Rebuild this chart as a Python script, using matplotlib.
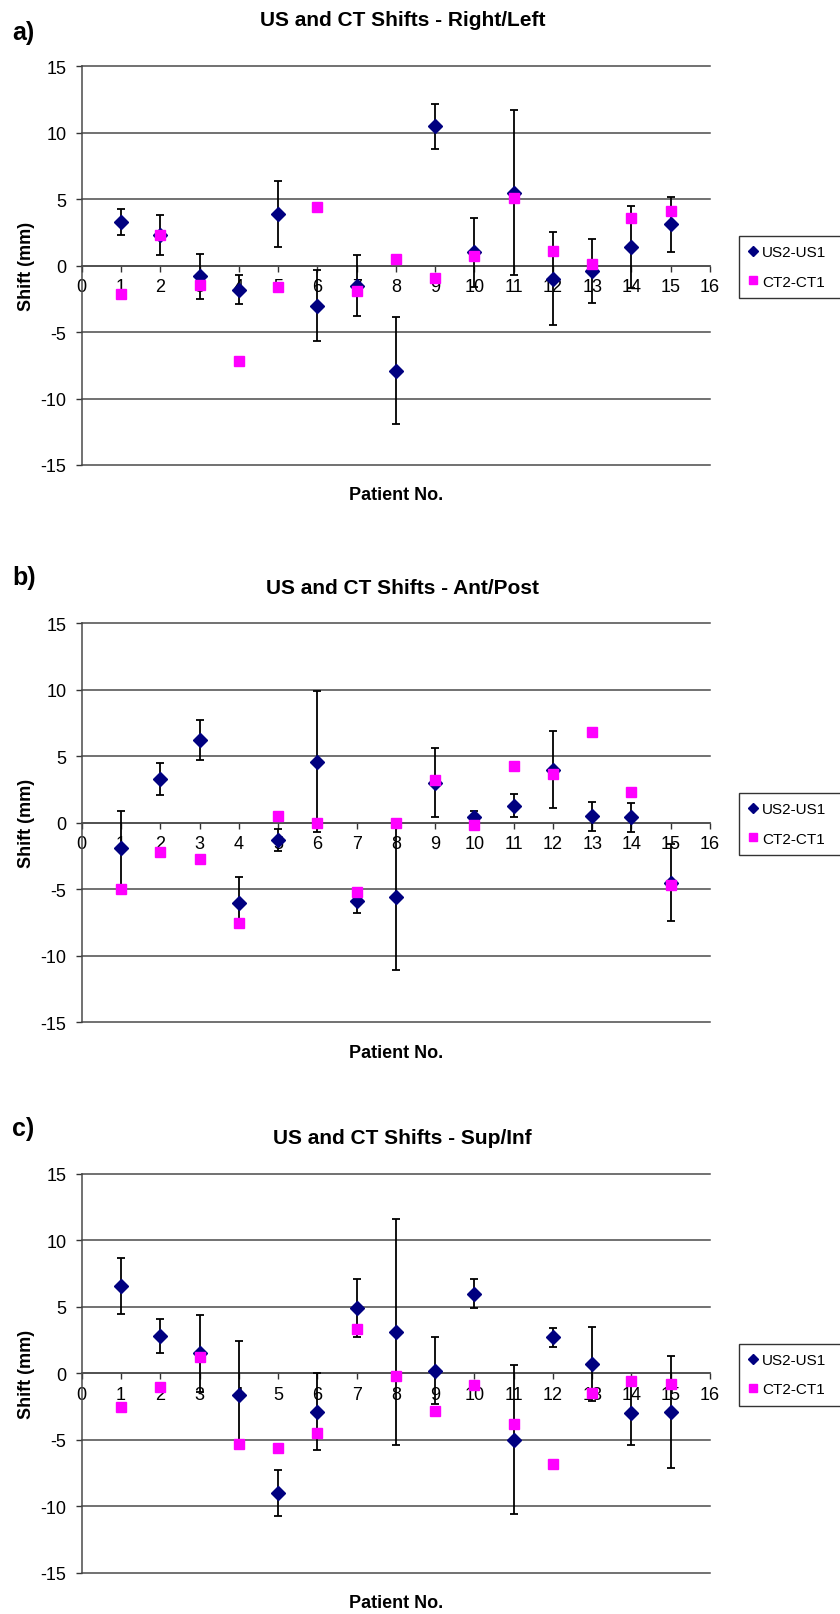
import matplotlib
matplotlib.use("Agg")
import matplotlib.pyplot as plt
import numpy as np

plt.rcParams["font.family"] = ["Liberation Sans", "DejaVu Sans"]
plt.rcParams["axes.unicode_minus"] = False

patients = list(range(1, 16))

# a) Right/Left
us_rl = [3.3, 2.3, -0.8, -1.8, 3.9, -3.0, -1.5, -7.9, 10.5, 1.0, 5.5, -1.0, -0.4, 1.4, 3.1]
us_rl_err = [1.0, 1.5, 1.7, 1.1, 2.5, 2.7, 2.3, 4.0, 1.7, 2.6, 6.2, 3.5, 2.4, 3.1, 2.1]
ct_rl = [-2.1, 2.3, -1.45, -7.2, -1.6, 4.4, -1.9, 0.5, -0.9, 0.7, 5.1, 1.1, 0.1, 3.6, 4.1]

# b) Ant/Post
us_ap = [-1.9, 3.3, 6.2, -6.0, -1.3, 4.6, -5.9, -5.6, 3.0, 0.4, 1.3, 4.0, 0.5, 0.4, -4.5]
us_ap_err = [2.8, 1.2, 1.5, 1.9, 0.8, 5.3, 0.9, 5.5, 2.6, 0.5, 0.9, 2.9, 1.1, 1.1, 2.9]
ct_ap = [-5.0, -2.2, -2.7, -7.5, 0.5, 0.0, -5.2, 0.0, 3.2, -0.15, 4.3, 3.7, 6.8, 2.3, -4.7]

# c) Sup/Inf
us_si = [6.6, 2.8, 1.5, -1.6, -9.0, -2.9, 4.9, 3.1, 0.2, 6.0, -5.0, 2.7, 0.7, -3.0, -2.9]
us_si_err = [2.1, 1.3, 2.9, 4.0, 1.7, 2.9, 2.2, 8.5, 2.5, 1.1, 5.6, 0.7, 2.8, 2.4, 4.2]
ct_si = [-2.5, -1.0, 1.2, -5.3, -5.6, -4.5, 3.3, -0.2, -2.8, -0.9, -3.8, -6.8, -1.5, -0.6, -0.8]

panels = [
    ("a)", "US and CT Shifts - Right/Left", us_rl, us_rl_err, ct_rl),
    ("b)", "US and CT Shifts - Ant/Post", us_ap, us_ap_err, ct_ap),
    ("c)", "US and CT Shifts - Sup/Inf", us_si, us_si_err, ct_si),
]

W, H = 840, 1615
# axes boxes in pixels: (top, bottom); label/title offsets above top
tops = [67.3, 624.3, 1175.0]
bottoms = [466.0, 1023.3, 1573.7]
left_px, right_px = 81.7, 710.0
label_off = [34, 46, 46]
title_off = [47, 36, 36]

GRID = "#4a4a4a"

fig = plt.figure(figsize=(W / 100, H / 100), dpi=100)

for i, (tag, title, us, us_err, ct) in enumerate(panels):
    top, bot = tops[i], bottoms[i]
    ax = fig.add_axes([left_px / W, 1 - bot / H, (right_px - left_px) / W, (bot - top) / H])
    ax.set_xlim(0, 16)
    ax.set_ylim(-15, 15)
    ax.set_xticks(range(0, 17))
    ax.set_yticks(range(-15, 16, 5))
    ax.yaxis.grid(True, color=GRID, lw=1.1)
    for gl in ax.yaxis.get_gridlines():
        gl.set_clip_on(False)
    ax.set_axisbelow(True)

    for s in ("top", "right"):
        ax.spines[s].set_visible(False)
    ax.spines["bottom"].set_position(("data", 0))
    ax.spines["bottom"].set_color(GRID)
    ax.spines["bottom"].set_linewidth(1.1)
    ax.spines["left"].set_color(GRID)
    ax.spines["left"].set_linewidth(1.1)
    ax.tick_params(axis="both", direction="out", length=4, width=1.0,
                   color="#333333", labelsize=13)
    ax.tick_params(axis="x", pad=5)
    ax.tick_params(axis="y", pad=7)

    ax.errorbar(patients, us, yerr=us_err, fmt="none", ecolor="black",
                elinewidth=1.3, capsize=3.2, capthick=1.3, zorder=3)
    ax.plot(patients, us, "D", color="#000080", ms=7, ls="none",
            label="US2-US1", zorder=4)
    ax.plot(patients, ct, "s", color="#FF00FF", ms=7.5, ls="none",
            label="CT2-CT1", zorder=5)

    ax.set_ylabel("Shift (mm)", fontsize=13, fontweight="bold", labelpad=4)
    fig.text((left_px + right_px) / 2 / W, 1 - (bot + 30) / H, "Patient No.",
             ha="center", va="center", fontsize=13, fontweight="bold")
    fig.text((left_px + right_px) / 2 / W + 0.008, 1 - (top - title_off[i]) / H, title,
             ha="center", va="center", fontsize=15, fontweight="bold")
    fig.text(12 / W, 1 - (top - label_off[i]) / H, tag,
             ha="left", va="center", fontsize=18, fontweight="bold")

    leg = ax.legend(loc="upper left",
                    bbox_to_anchor=(739 / W, 1 - (top + 170) / H, 0.14, 0),
                    bbox_transform=fig.transFigure, mode="expand",
                    fontsize=11, frameon=True, fancybox=False, edgecolor="black",
                    handlelength=0.6, handletextpad=0.3, borderpad=0.6,
                    labelspacing=1.0, markerscale=0.8, borderaxespad=0)
    leg.get_frame().set_linewidth(1.0)

fig.savefig("out.png", dpi=100)
